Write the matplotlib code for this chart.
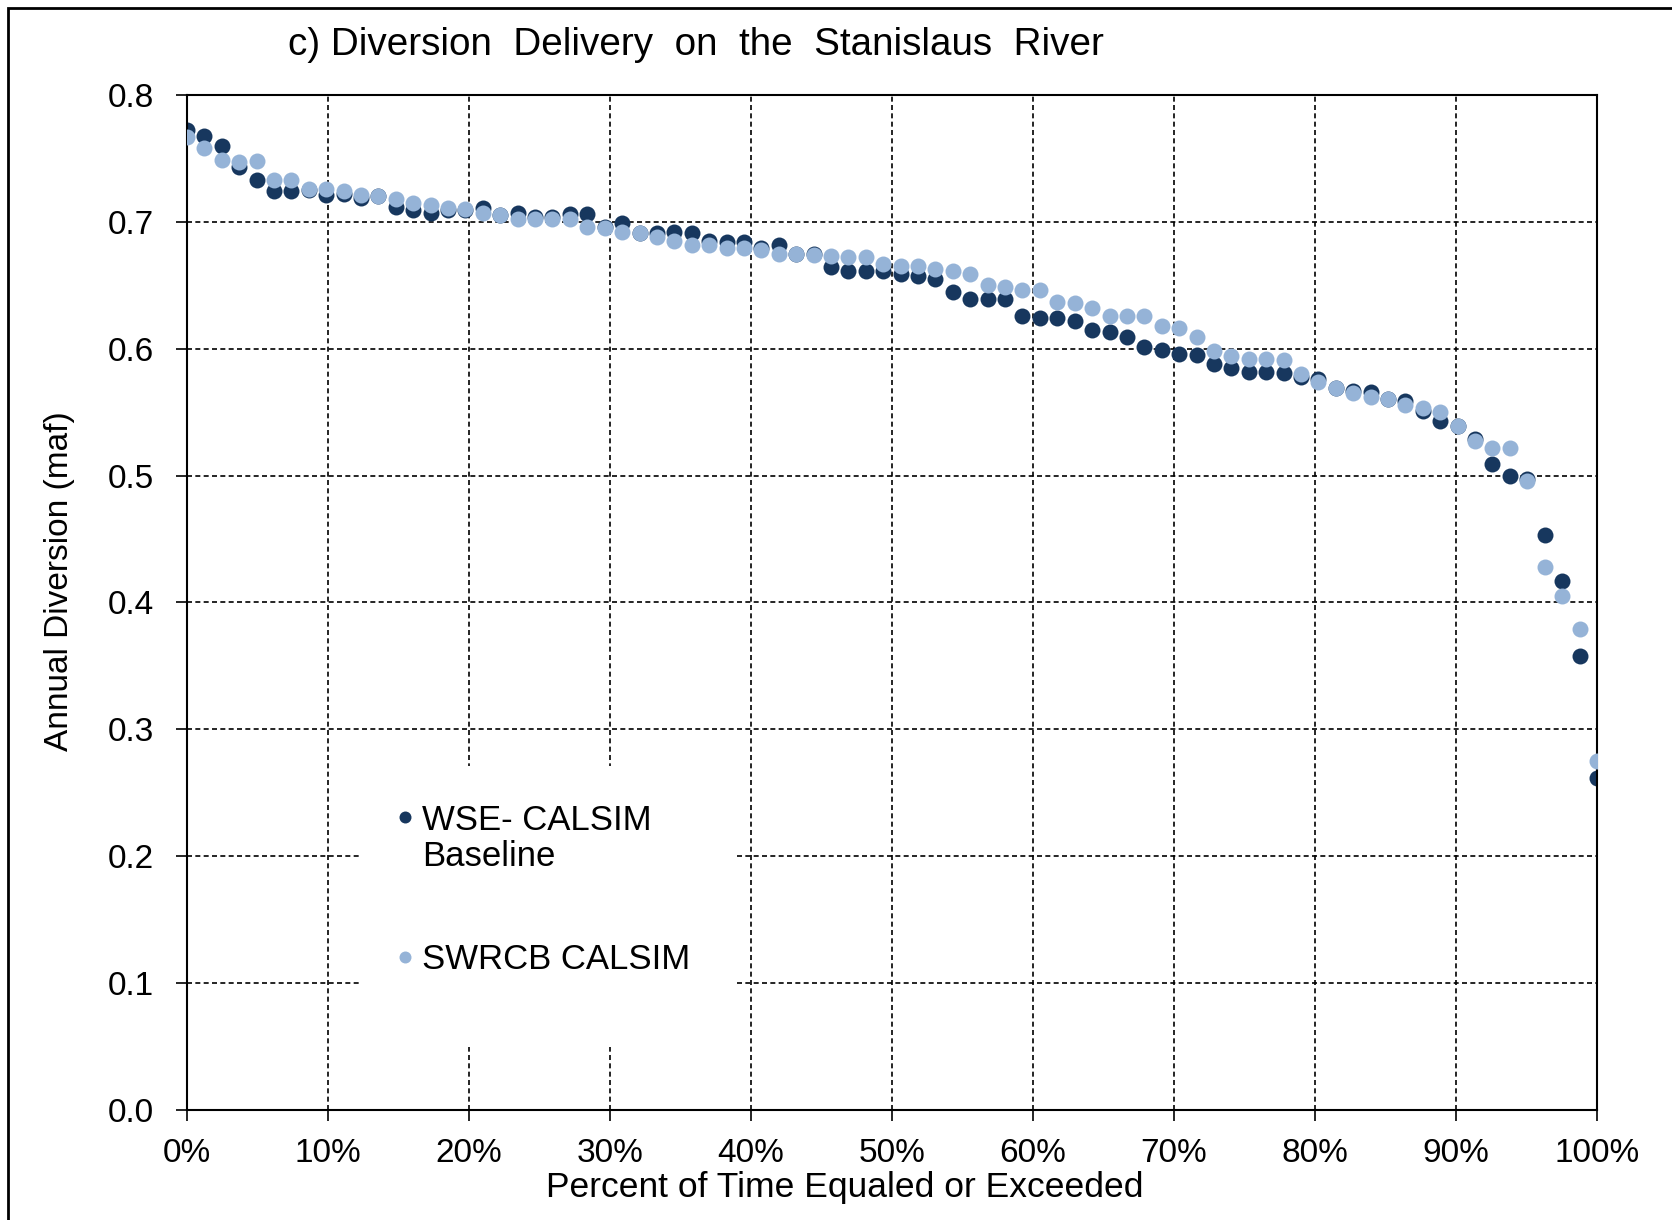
import numpy as np
import matplotlib
matplotlib.use("Agg")
import matplotlib.pyplot as plt
from matplotlib.patches import Rectangle
from matplotlib.text import Annotation

plt.rcParams['font.family'] = ['Liberation Sans', 'DejaVu Sans']

# annual diversion (maf), sorted, 82 years
wse_baseline = [0.772, 0.768, 0.760, 0.743, 0.733, 0.724, 0.724, 0.725, 0.721, 0.722,
                0.719, 0.720, 0.712, 0.709, 0.707, 0.709, 0.709, 0.711, 0.705, 0.707,
                0.704, 0.704, 0.706, 0.706, 0.696, 0.699, 0.691, 0.691, 0.692, 0.691,
                0.685, 0.684, 0.684, 0.679, 0.682, 0.675, 0.675, 0.664, 0.661, 0.661,
                0.661, 0.659, 0.657, 0.655, 0.645, 0.639, 0.639, 0.639, 0.626, 0.624,
                0.624, 0.622, 0.615, 0.613, 0.609, 0.601, 0.599, 0.596, 0.595, 0.588,
                0.585, 0.582, 0.582, 0.581, 0.578, 0.576, 0.569, 0.567, 0.566, 0.560,
                0.559, 0.551, 0.543, 0.539, 0.529, 0.509, 0.500, 0.497, 0.453, 0.417,
                0.358, 0.262]
swrcb = [0.767, 0.758, 0.749, 0.747, 0.748, 0.733, 0.733, 0.726, 0.726, 0.724,
         0.721, 0.720, 0.718, 0.715, 0.713, 0.711, 0.710, 0.707, 0.705, 0.702,
         0.702, 0.702, 0.702, 0.696, 0.695, 0.692, 0.691, 0.688, 0.685, 0.682,
         0.682, 0.679, 0.679, 0.678, 0.675, 0.675, 0.674, 0.673, 0.672, 0.672,
         0.667, 0.665, 0.665, 0.663, 0.661, 0.659, 0.650, 0.649, 0.646, 0.646,
         0.637, 0.636, 0.632, 0.626, 0.626, 0.626, 0.618, 0.616, 0.609, 0.598,
         0.594, 0.592, 0.592, 0.591, 0.580, 0.574, 0.569, 0.565, 0.562, 0.560,
         0.556, 0.553, 0.550, 0.539, 0.527, 0.522, 0.522, 0.496, 0.428, 0.405,
         0.379, 0.275]
series_names = ['WSE- CALSIM', 'SWRCB CALSIM']
name_second_line = 'Baseline'

n = len(wse_baseline)
pct = np.arange(n) / (n - 1)  # percent of time equaled or exceeded

dark = '#17375e'
light = '#95b3d7'
fs = 24

fig = plt.figure(figsize=(16.72, 12.2), dpi=100)
ax = fig.add_axes([0.1118, 0.0902, 0.8433, 0.8320])

ax.plot(pct, wse_baseline, 'o', color=dark, ms=11.5, mew=0, label=series_names[0], zorder=2)
ax.plot(pct, swrcb, 'o', color=light, ms=11.5, mew=0, label=series_names[1], zorder=3)

ax.set_xlim(0, 1)
ax.set_ylim(0, 0.8)
ax.set_xticks(np.arange(0, 1.01, 0.1))
ax.set_xticklabels(['%d%%' % v for v in range(0, 101, 10)])
ax.set_yticks(np.arange(0, 0.81, 0.1))
ax.set_yticklabels(['%.1f' % v for v in np.arange(0, 0.81, 0.1)])
ax.tick_params(labelsize=fs, direction='out', length=8, width=1.2, colors='black')
ax.tick_params(axis='x', pad=12)
ax.tick_params(axis='y', pad=16)
ax.grid(True, color='black', linestyle=(0, (3, 2)), linewidth=1.2)
for s in ax.spines.values():
    s.set_linewidth(1.5)
    s.set_color('black')

# white block behind legend, hiding gridlines
ax.add_patch(Rectangle((0.124, 0.062), 0.264, 0.277, transform=ax.transAxes,
                       facecolor='white', edgecolor='none', zorder=1.8))
leg = ax.legend(loc='upper left', bbox_to_anchor=(0.136, 0.319), frameon=False,
                fontsize=25, markerscale=0.75, handlelength=0.5, handletextpad=0.25,
                labelspacing=3.08, borderpad=0)
# second line of the first legend label, right under it (figure level so it
# is drawn after the legend has been laid out)
fig.add_artist(Annotation(name_second_line, xy=(0, 0.5), xycoords=leg.get_texts()[0],
                          xytext=(0, -26.5), textcoords='offset points',
                          ha='left', va='center', fontsize=25))

fig.text(0.416, 0.963, 'c) Diversion  Delivery  on  the  Stanislaus  River',
         ha='center', va='center', fontsize=27.8)
fig.text(0.0353, 0.524, 'Annual Diversion (maf)', rotation=90,
         ha='center', va='center', fontsize=fs)
fig.text(0.505, 0.027, 'Percent of Time Equaled or Exceeded',
         ha='center', va='center', fontsize=25.5)

# outer frame of the figure panel
fig.patches.append(Rectangle((8 / 1672, -0.1), 1.2, 1.1 - 8 / 1220,
                             transform=fig.transFigure, fill=False,
                             edgecolor='black', linewidth=2))

fig.savefig('out.png', dpi=100)
